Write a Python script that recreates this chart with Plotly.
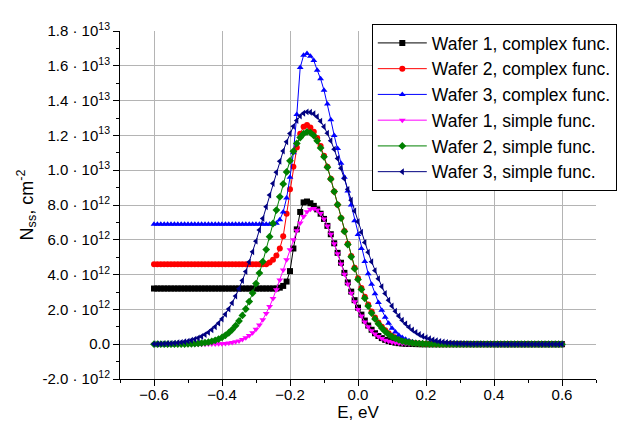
import numpy as np
import plotly.graph_objects as go

# Energy grid, eV (step 0.01 from -0.6 to 0.6)
E = np.round(np.linspace(-0.6, 0.6, 121), 2)

# N_ss values in units of 1e12 cm^-2
w1_complex = ([3.2] * 37 +
              [3.25, 3.35, 3.6, 4.2, 5.5, 6.6, 7.6, 8.15, 8.2, 8.1, 7.95, 7.75, 7.5, 7.2, 6.8, 6.32,
               5.8, 5.25, 4.68, 4.1, 3.55, 3.02, 2.53, 2.1, 1.7, 1.36, 1.07, 0.83, 0.63, 0.47, 0.35,
               0.25, 0.18, 0.125, 0.087, 0.06, 0.04, 0.026, 0.017, 0.011, 0.007, 0.004] +
              [0] * 42)

w2_complex = ([4.6] * 34 +
              [4.7, 4.85, 5.1, 5.5, 6.2, 7.5, 8.9, 10.2, 11.3, 12.1, 12.5, 12.6, 12.46, 12.21, 11.85,
               11.39, 10.83, 10.2, 9.51, 8.78, 8.02, 7.26, 6.5, 5.77, 5.07, 4.4, 3.79, 3.23, 2.73,
               2.28, 1.88, 1.54, 1.25, 1.0, 0.8, 0.63, 0.49, 0.38, 0.29, 0.22, 0.16, 0.12, 0.09,
               0.06, 0.045, 0.03, 0.02, 0.015, 0.01] +
              [0] * 38)

w3_complex = ([6.9] * 36 +
              [6.95, 7.15, 7.6, 8.4, 9.6, 11.0, 13.2, 15.9, 16.6, 16.7, 16.55, 16.3, 15.75, 15.25,
               14.6, 13.8, 12.9, 12.0, 11.25, 10.4, 9.6, 8.8, 8.0, 7.1, 6.3, 5.5, 4.75, 4.05, 3.45,
               2.9, 2.4, 1.95, 1.55, 1.2, 0.92, 0.7, 0.52, 0.38, 0.28, 0.2, 0.14, 0.095, 0.065,
               0.043, 0.028, 0.018, 0.011, 0.007] +
              [0] * 37)

w1_simple = ([0] * 15 +
             [0.003, 0.005, 0.008, 0.012, 0.019, 0.029, 0.043, 0.064, 0.093, 0.134, 0.19, 0.266,
              0.365, 0.493, 0.656, 0.86, 1.11, 1.41, 1.762, 2.168, 2.628, 3.136, 3.683, 4.26,
              4.849, 5.435, 5.997, 6.515, 6.968, 7.337, 7.605, 7.761, 7.8, 7.713, 7.511, 7.2,
              6.796, 6.315, 5.777, 5.203, 4.613, 4.026, 3.46, 2.927, 2.438, 1.999, 1.614, 1.283,
              1.004, 0.773, 0.587, 0.438, 0.322, 0.233, 0.166, 0.116, 0.08, 0.055, 0.037, 0.024,
              0.015, 0.01, 0.006, 0.004] +
             [0] * 42)

w2_simple = ([0, 0, 0.001, 0.001, 0.002, 0.002, 0.004, 0.005, 0.007, 0.011, 0.015, 0.021, 0.031,
              0.044, 0.062, 0.087, 0.119, 0.163, 0.22, 0.295, 0.389, 0.509, 0.658, 0.842, 1.066,
              1.334, 1.651, 2.023, 2.451, 2.937, 3.484, 4.086, 4.741, 5.441, 6.177, 6.937, 7.708,
              8.47, 9.209, 9.903, 10.54, 11.09, 11.54, 11.88, 12.1, 12.2, 12.16, 11.99, 11.69,
              11.28, 10.77, 10.17, 9.49, 8.77, 8.02, 7.25, 6.48, 5.73, 5.02, 4.34, 3.72, 3.15,
              2.64, 2.19, 1.79, 1.45, 1.17, 0.93, 0.73, 0.56, 0.43, 0.33, 0.25, 0.18, 0.14, 0.1,
              0.07, 0.05, 0.035, 0.025, 0.017, 0.012, 0.008, 0.005, 0.003] +
             [0] * 36)

w3_simple = ([0.011, 0.015, 0.02, 0.027, 0.036, 0.047, 0.063, 0.082, 0.106, 0.138, 0.176, 0.225,
              0.284, 0.357, 0.445, 0.551, 0.678, 0.827, 1.004, 1.209, 1.446, 1.718, 2.026, 2.374,
              2.763, 3.192, 3.663, 4.173, 4.723, 5.307, 5.922, 6.563, 7.224, 7.895, 8.568, 9.236,
              9.887, 10.51, 11.1, 11.63, 12.11, 12.52, 12.85, 13.11, 13.27, 13.35, 13.33, 13.24,
              13.07, 12.82, 12.5, 12.13, 11.69, 11.2, 10.67, 10.11, 9.51, 8.9, 8.28, 7.66, 7.04,
              6.44, 5.85, 5.28, 4.74, 4.23, 3.76, 3.31, 2.91, 2.53, 2.2, 1.89, 1.62, 1.38, 1.17,
              0.98, 0.82, 0.68, 0.56, 0.46, 0.38, 0.31, 0.25, 0.2, 0.16, 0.126, 0.099, 0.078,
              0.061, 0.047, 0.036, 0.028, 0.021, 0.016, 0.012, 0.009, 0.007, 0.005, 0.004, 0.003,
              0.002] +
             [0] * 20)

series_names = ["Wafer 1, complex func.", "Wafer 2, complex func.", "Wafer 3, complex func.",
                "Wafer 1, simple func.", "Wafer 2, simple func.", "Wafer 3, simple func."]
series_values = [w1_complex, w2_complex, w3_complex, w1_simple, w2_simple, w3_simple]
colors = ["#000000", "#FF0000", "#0000FF", "#FF00FF", "#008000", "#000080"]
symbols = ["square", "circle", "triangle-up", "triangle-down", "diamond", "triangle-left"]

y_tickvals = [-2, 0, 2, 4, 6, 8, 10, 12, 14, 16, 18]
y_ticktext = ["-2.0 · 10<sup>12</sup>", "0.0", "2.0 · 10<sup>12</sup>", "4.0 · 10<sup>12</sup>",
              "6.0 · 10<sup>12</sup>", "8.0 · 10<sup>12</sup>", "1.0 · 10<sup>13</sup>",
              "1.2 · 10<sup>13</sup>", "1.4 · 10<sup>13</sup>", "1.6 · 10<sup>13</sup>",
              "1.8 · 10<sup>13</sup>"]

FONT = "Liberation Sans, Arial, sans-serif"

fig = go.Figure()
for name, vals, col, sym in zip(series_names, series_values, colors, symbols):
    fig.add_trace(go.Scatter(
        x=E, y=vals, name=name, mode="lines+markers",
        line=dict(color=col, width=1),
        marker=dict(symbol=sym, size=6, color=col, line=dict(width=0)),
    ))

fig.update_layout(
    width=636, height=431,
    margin=dict(l=112, r=48, t=21, b=60),
    paper_bgcolor="white", plot_bgcolor="white",
    font=dict(family=FONT, color="black", size=15),
    showlegend=True,
    legend=dict(
        x=0.529, y=1.02, xanchor="left", yanchor="top",
        bgcolor="white", bordercolor="black", borderwidth=1,
        font=dict(family=FONT, size=17.5, color="black"),
        itemwidth=49, tracegroupgap=0,
    ),
    xaxis=dict(
        range=[-0.7, 0.7], tick0=-0.6, dtick=0.2, tickformat=".1f",
        showline=True, linecolor="black", linewidth=1, mirror=False,
        ticks="outside", ticklen=6, tickcolor="black",
        showgrid=True, gridcolor="#b4b4b4", gridwidth=1, zeroline=False,
        minor=dict(tick0=-0.7, dtick=0.1, ticks="outside", ticklen=3, tickcolor="black", showgrid=False),
        title=dict(text="E, eV", font=dict(size=17), standoff=4),
        tickfont=dict(size=15),
        ticklabelstandoff=-4,
    ),
    yaxis=dict(
        range=[-2, 18], tickmode="array", tickvals=y_tickvals, ticktext=y_ticktext,
        showline=True, linecolor="black", linewidth=1, mirror=False,
        ticks="outside", ticklen=6, tickcolor="black",
        showgrid=True, gridcolor="#b4b4b4", gridwidth=1, zeroline=False,
        minor=dict(tick0=-2, dtick=1, ticks="outside", ticklen=3, tickcolor="black", showgrid=False),
        title=dict(text="N<sub>ss</sub>, cm<sup>-2</sup>", font=dict(size=18), standoff=4),
        tickfont=dict(size=15),
    ),
)

fig.write_html("out.html")
